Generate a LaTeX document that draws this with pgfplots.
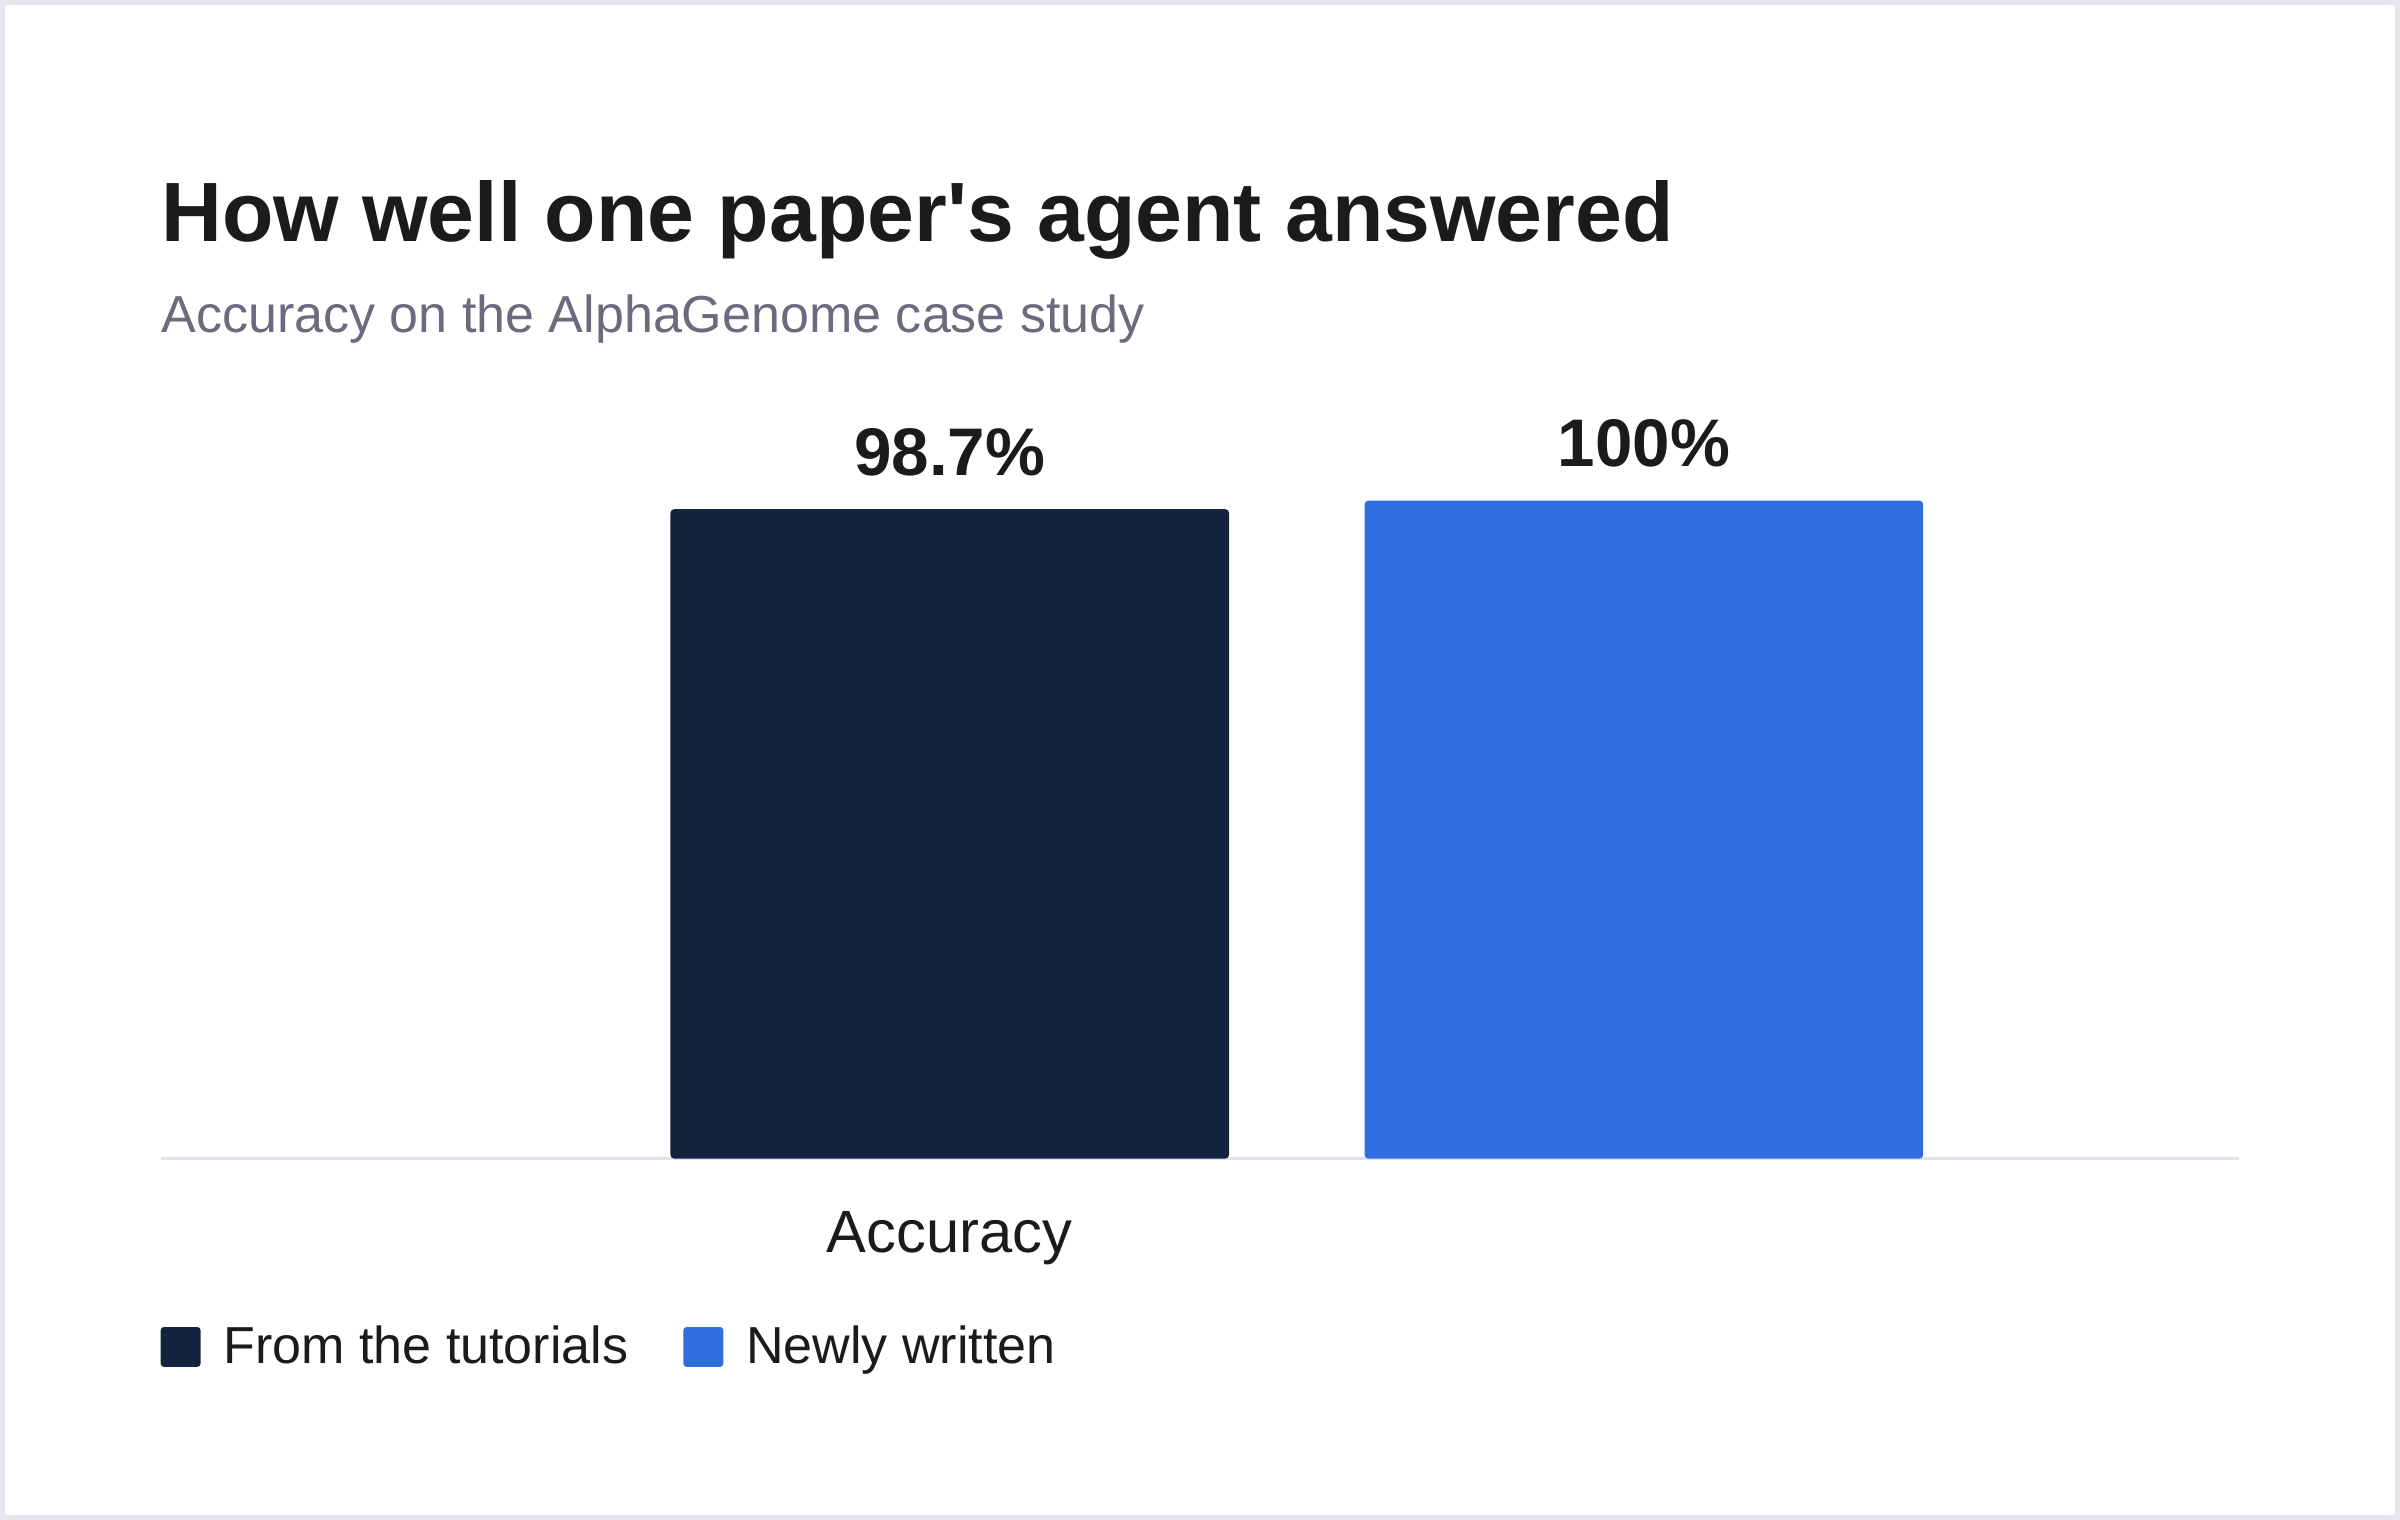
\documentclass[border=0pt]{standalone}
\usepackage{fontspec}
\setmainfont{Liberation Sans}[Ligatures=TeXOff]
\usepackage{pgfplots}
\pgfplotsset{compat=1.18}

\definecolor{navybar}{HTML}{14243F}
\definecolor{bluebar}{HTML}{306EE0}
\definecolor{titleink}{HTML}{1B1B1B}
\definecolor{subink}{HTML}{6B6B7E}
\definecolor{rulegray}{HTML}{E2E2EA}
\definecolor{framegray}{HTML}{E6E6EE}

\begin{document}
\begin{tikzpicture}
\begin{axis}[
  scale only axis, width=679pt, height=215pt,
  xmin=-1.1367, xmax=1.8578, ymin=0, ymax=100,
  axis x line*=bottom, axis y line=none,
  x axis line style={draw=rulegray, line width=0.8pt},
  xtick={0}, xticklabels={Accuracy}, major tick length=0pt,
  xticklabel style={anchor=base, yshift=-30.5pt, font=\fontsize{19.5}{23}\selectfont, text=titleink},
  ytick=\empty,
  clip=false,
  legend columns=2,
  legend cell align=left,
  legend style={at={(0,0)}, anchor=west, yshift=-61.5pt, draw=none, inner sep=0pt, outer sep=0pt,
    font=\fontsize{17}{20}\selectfont, text=titleink,
    /tikz/every odd column/.append style={column sep=5.5pt},
    /tikz/every even column/.append style={column sep=16pt}},
  legend image code/.code={\fill[#1, rounded corners=1pt] (0pt,-6.5pt) rectangle (13pt,6.5pt);},
  nodes near coords={\pgfmathprintnumber[assume math mode=true]{\pgfplotspointmeta}\%},
  nodes near coords style={anchor=base, yshift=11pt, font=\bfseries\fontsize{22}{26}\selectfont, text=titleink},
]
\addplot[ybar, bar width=182.5pt, fill=navybar, draw=none, rounded corners=1.3pt] coordinates {(0,98.7)};
\addlegendentry{From the tutorials}
\addplot[ybar, bar width=182.5pt, fill=bluebar, draw=none, rounded corners=1.3pt] coordinates {(1,100)};
\addlegendentry{Newly written}

\node[anchor=base west, inner sep=0pt, yshift=84.5pt, text=titleink,
  font=\bfseries\fontsize{27.5}{33}\selectfont] at (axis description cs:0,1)
  {How well one paper's agent answered};
\node[anchor=base west, inner sep=0pt, yshift=55pt, text=subink,
  font=\fontsize{17}{20}\selectfont] at (axis description cs:0,1)
  {Accuracy on the AlphaGenome case study};
\end{axis}
\draw[framegray, line width=1.5pt] (-51.75pt,-117.25pt) rectangle (730.75pt,377.75pt);
\pgfresetboundingbox
\path[use as bounding box] (-52.5pt,-118pt) rectangle (731.5pt,378.5pt);
\end{tikzpicture}
\end{document}
